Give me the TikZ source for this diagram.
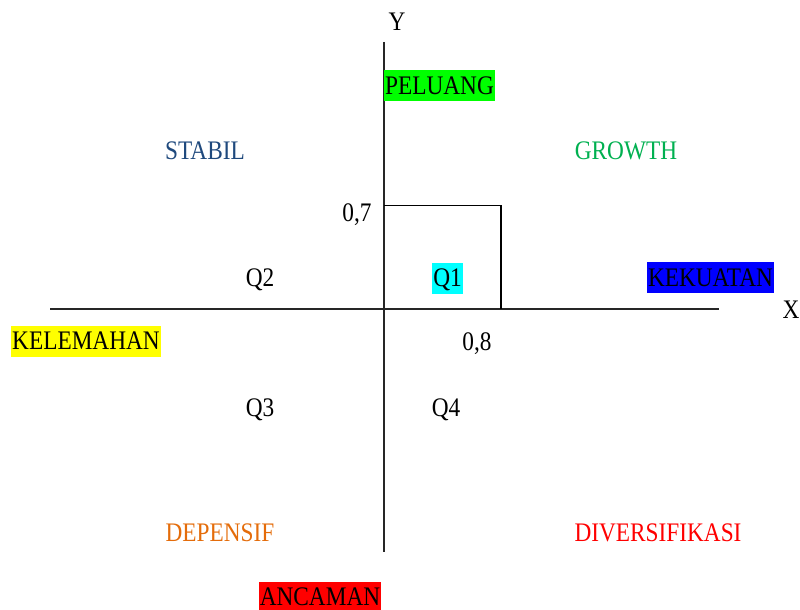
\documentclass[tikz,border=0pt]{standalone}
\usepackage{fontspec}
\setmainfont{Liberation Serif}
\definecolor{stabilc}{RGB}{31,73,125}
\definecolor{growthc}{RGB}{0,176,80}
\definecolor{depensifc}{RGB}{228,108,10}
\definecolor{divc}{RGB}{255,0,0}
\definecolor{hlgreen}{RGB}{0,255,0}
\definecolor{hlblue}{RGB}{0,0,255}
\definecolor{hlyellow}{RGB}{255,255,0}
\definecolor{hlred}{RGB}{255,0,0}
\definecolor{hlcyan}{RGB}{0,255,255}
\newcommand{\stretchlbl}[1]{\scalebox{1}[1.15]{#1}}
\tikzset{
  lbl/.style={inner sep=0pt, text height=17.3pt, text depth=0pt,
    font=\fontsize{23.3}{27}\selectfont},
  hl/.style={lbl, inner xsep=1pt, inner ysep=6.85pt, fill=#1},
  axis/.style={line width=1.4pt, black!85},
  frame/.style={line width=1.3pt, black}
}
\begin{document}
\begin{tikzpicture}[x=1pt,y=-1pt]
\useasboundingbox (0,0) rectangle (800,610);
% axes
\coordinate (ytop) at (384,42);
\coordinate (ybot) at (384,552);
\coordinate (xleft) at (50,309);
\coordinate (xright) at (719,309);
\draw[axis] (ytop) -- (ybot);
\draw[axis] (xleft) -- (xright);
% rectangle of point
\coordinate (r07) at (384,205.5);
\coordinate (rcorner) at (501,205.5);
\coordinate (r08) at (501,309);
\draw[frame] (r07) -- (rcorner) -- (r08);
% axis labels
\node[lbl] (ylabel) at (397,22) {\stretchlbl{Y}};
\node[lbl] (xlabel) at (791,309.5) {\stretchlbl{X}};
% highlighted labels
\node[hl=hlgreen] (peluang) at (439.5,85.5) {\stretchlbl{PELUANG}};
\node[hl=hlblue] (kekuatan) at (710.5,277.5) {\stretchlbl{KEKUATAN}};
\node[hl=hlyellow] (kelemahan) at (86,341) {\stretchlbl{KELEMAHAN}};
\node[hl=hlred] (ancaman) at (320,597) {\stretchlbl{ANCAMAN}};
\node[hl=hlcyan] (q1) at (447.5,278) {\stretchlbl{Q1}};
% strategies
\node[lbl, text=stabilc] (stabil) at (205,151) {\stretchlbl{STABIL}};
\node[lbl, text=growthc] (growth) at (626,151) {\stretchlbl{GROWTH}};
\node[lbl, text=depensifc] (depensif) at (220,533) {\stretchlbl{DEPENSIF}};
\node[lbl, text=divc] (divers) at (658,533) {\stretchlbl{DIVERSIFIKASI}};
% quadrants
\node[lbl] (q2) at (260,278) {\stretchlbl{Q2}};
\node[lbl] (q3) at (260,408) {\stretchlbl{Q3}};
\node[lbl] (q4) at (446,408) {\stretchlbl{Q4}};
% values
\node[lbl] (v07) at (357,213) {\stretchlbl{0,7}};
\node[lbl] (v08) at (477,342) {\stretchlbl{0,8}};
\end{tikzpicture}
\end{document}
